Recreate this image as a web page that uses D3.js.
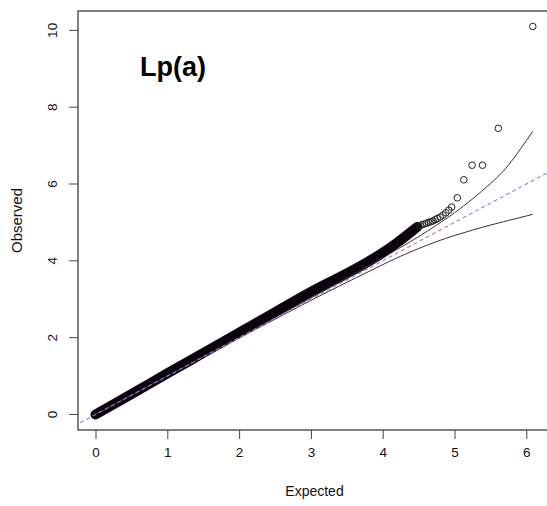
<!DOCTYPE html>
<html>
<head>
<meta charset="utf-8">
<script src="https://cdn.jsdelivr.net/npm/d3@7"></script>
<style>
  body { margin: 0; background: #fff; }
  svg { display: block; font-family: "Liberation Sans", Arial, sans-serif; }
</style>
</head>
<body>
<div id="chart"></div>
<script>
// dense part of the QQ cloud (expected vs observed -log10 p)
var bandExp = [0, 0.5, 1.0, 1.5, 2.0, 2.5, 3.0, 3.5, 3.8, 4.0, 4.2, 4.38, 4.48];
var bandObs = [0, 0.53, 1.07, 1.6, 2.13, 2.66, 3.19, 3.67, 3.98, 4.21, 4.47, 4.73, 4.88];

// single points in the tail
var tailExp = [4.52, 4.55, 4.58, 4.61, 4.64, 4.67, 4.7, 4.73, 4.76, 4.8, 4.84, 4.88, 4.92, 4.96, 5.04, 5.13, 5.245, 5.39, 5.61, 6.09];
var tailObs = [4.92, 4.94, 4.96, 4.98, 5.0, 5.02, 5.04, 5.07, 5.1, 5.14, 5.19, 5.25, 5.32, 5.4, 5.64, 6.11, 6.49, 6.49, 7.45, 10.1];

// confidence band curves
var ciExp = [0, 1, 2, 2.5, 3, 3.5, 4, 4.25, 4.5, 4.75, 5, 5.25, 5.5, 5.75, 6.09];
var ciLow = [0, 0.998, 1.99, 2.48, 2.97, 3.44, 3.9, 4.12, 4.32, 4.5, 4.66, 4.8, 4.93, 5.05, 5.21];
var ciUpp = [0, 1.002, 2.01, 2.52, 3.03, 3.55, 4.08, 4.35, 4.63, 4.93, 5.25, 5.61, 6.01, 6.49, 7.37];

var xTicks = [0, 1, 2, 3, 4, 5, 6];
var yTicks = [0, 2, 4, 6, 8, 10];
var title = "Lp(a)";

var width = 547, height = 506;
var box = {left: 78, right: 551, top: 11, bottom: 430};

var x = d3.scaleLinear().domain([-0.244, 6.344]).range([box.left, box.right]);
var y = d3.scaleLinear().domain([-0.404, 10.504]).range([box.bottom, box.top]);

var svg = d3.select("#chart").append("svg")
    .attr("width", width)
    .attr("height", height);

svg.append("clipPath").attr("id", "clip")
  .append("rect")
    .attr("x", box.left).attr("y", box.top)
    .attr("width", box.right - box.left).attr("height", box.bottom - box.top);

var plot = svg.append("g").attr("clip-path", "url(#clip)");

var line = d3.line()
    .x(function(d) { return x(d[0]); })
    .y(function(d) { return y(d[1]); });

// dense overlap of thousands of circles -> thick band
var band = bandExp.map(function(e, i) { return [e, bandObs[i]]; });
plot.append("path")
    .datum(band)
    .attr("d", line.curve(d3.curveMonotoneX))
    .attr("fill", "none")
    .attr("stroke", "#0b0510")
    .attr("stroke-width", 10)
    .attr("stroke-linecap", "round")
    .attr("stroke-linejoin", "round");

plot.selectAll("circle.band")
  .data(band)
  .enter().append("circle")
    .attr("class", "band")
    .attr("cx", function(d) { return x(d[0]); })
    .attr("cy", function(d) { return y(d[1]); })
    .attr("r", 3.3)
    .attr("fill", "none")
    .attr("stroke", "#000");

var tail = tailExp.map(function(e, i) { return [e, tailObs[i]]; });
plot.selectAll("circle.tail")
  .data(tail)
  .enter().append("circle")
    .attr("class", "tail")
    .attr("cx", function(d) { return x(d[0]); })
    .attr("cy", function(d) { return y(d[1]); })
    .attr("r", 3.3)
    .attr("fill", "none")
    .attr("stroke", "#222")
    .attr("stroke-width", 1);

// CI curves
[ciLow, ciUpp].forEach(function(arr) {
  plot.append("path")
      .datum(ciExp.map(function(e, i) { return [e, arr[i]]; }))
      .attr("d", line.curve(d3.curveNatural))
      .attr("fill", "none")
      .attr("stroke", "#333")
      .attr("stroke-width", 1);
});

// y = x reference
plot.append("line")
    .attr("x1", x(-0.3)).attr("y1", y(-0.3))
    .attr("x2", x(6.4)).attr("y2", y(6.4))
    .attr("stroke", "#a57ad6")
    .attr("stroke-width", 1.1)
    .attr("stroke-dasharray", "4,3");

// box
svg.append("rect")
    .attr("x", box.left).attr("y", box.top)
    .attr("width", box.right - box.left).attr("height", box.bottom - box.top)
    .attr("fill", "none")
    .attr("stroke", "#555")
    .attr("stroke-width", 1.5);

// axes (R style)
var xAxis = svg.append("g")
    .attr("transform", "translate(0," + box.bottom + ")")
    .call(d3.axisBottom(x).tickValues(xTicks).tickSize(9).tickPadding(8).tickFormat(d3.format("d")));
xAxis.select(".domain").remove();
xAxis.selectAll("text").attr("font-size", 13.5).attr("fill", "#111")
    .attr("font-family", "Liberation Sans, Arial, sans-serif");
xAxis.selectAll("line").attr("stroke", "#444");

var yAxis = svg.append("g")
    .attr("transform", "translate(" + box.left + ",0)")
    .call(d3.axisLeft(y).tickValues(yTicks).tickSize(9).tickFormat(d3.format("d")));
yAxis.select(".domain").remove();
yAxis.selectAll("line").attr("stroke", "#444");
yAxis.selectAll(".tick").attr("transform", null);
yAxis.selectAll(".tick line").attr("transform", function(d) { return "translate(0," + y(d) + ")"; });
yAxis.selectAll("text")
    .attr("font-size", 13.5).attr("fill", "#111")
    .attr("font-family", "Liberation Sans, Arial, sans-serif")
    .attr("x", 0).attr("y", 0).attr("dy", "0.35em")
    .attr("text-anchor", "middle")
    .attr("transform", function(d) { return "translate(-26," + y(d) + ") rotate(-90)"; });

// axis titles
svg.append("text")
    .attr("x", (box.left + box.right) / 2)
    .attr("y", 496)
    .attr("text-anchor", "middle")
    .attr("font-size", 14)
    .attr("fill", "#111")
    .text("Expected");

svg.append("text")
    .attr("transform", "translate(22," + ((box.top + box.bottom) / 2) + ") rotate(-90)")
    .attr("text-anchor", "middle")
    .attr("font-size", 15)
    .attr("fill", "#111")
    .text("Observed");

svg.append("text")
    .attr("x", 140)
    .attr("y", 76)
    .attr("font-size", 27)
    .attr("font-weight", "bold")
    .attr("fill", "#000")
    .text(title);
</script>
</body>
</html>
